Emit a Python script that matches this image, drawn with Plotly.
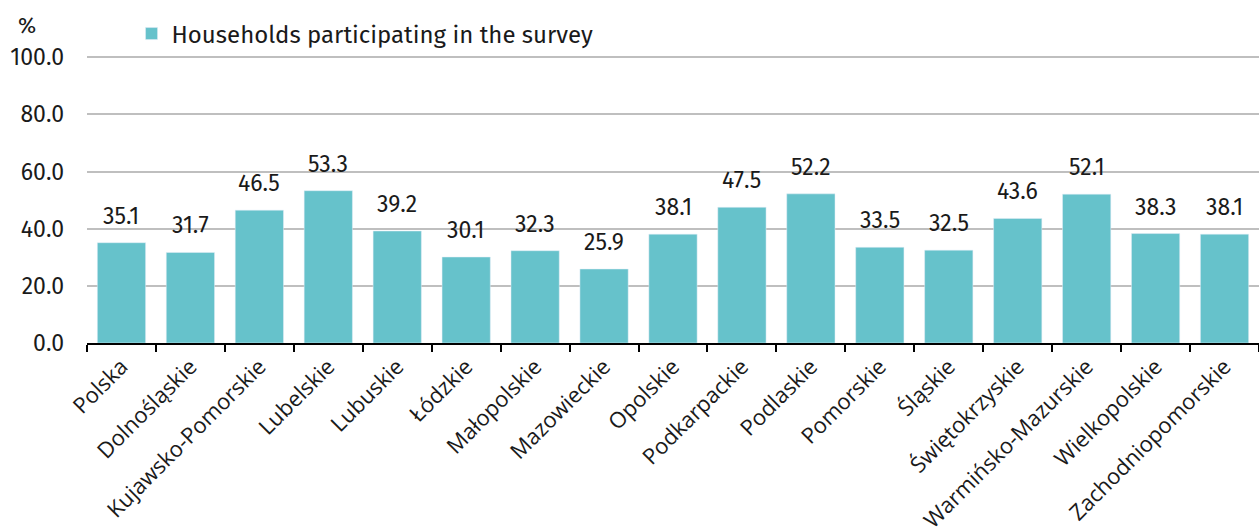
import plotly.graph_objects as go

regions = [
    "Polska", "Dolnośląskie", "Kujawsko-Pomorskie", "Lubelskie", "Lubuskie",
    "Łódzkie", "Małopolskie", "Mazowieckie", "Opolskie", "Podkarpackie",
    "Podlaskie", "Pomorskie", "Śląskie", "Świętokrzyskie",
    "Warmińsko-Mazurskie", "Wielkopolskie", "Zachodniopomorskie",
]
households = [
    35.1, 31.7, 46.5, 53.3, 39.2, 30.1, 32.3, 25.9, 38.1, 47.5,
    52.2, 33.5, 32.5, 43.6, 52.1, 38.3, 38.1,
]
y_ticks = [0, 20, 40, 60, 80, 100]

main_font = "Fira Sans, Roboto, sans-serif"
tick_font = "Open Sans, sans-serif"

fig = go.Figure()
fig.add_trace(go.Bar(
    x=regions,
    y=households,
    name="Households participating in the survey",
    marker=dict(color="#66C2CB"),
))

# value labels above the bars
annotations = []
for region, val in zip(regions, households):
    annotations.append(dict(
        x=region, y=val, xref="x", yref="y",
        text=f"{val:.1f}", showarrow=False,
        yanchor="bottom", yshift=11,
        font=dict(size=23, color="#1a1a1a", family=main_font),
    ))
annotations.append(dict(
    text="%", x=-0.051, xref="paper", y=1.104, yref="paper",
    xanchor="center", yanchor="middle", showarrow=False,
    font=dict(size=22, family=main_font),
))

fig.update_layout(
    width=1259,
    height=528,
    margin=dict(l=87, r=0, t=55, b=185, autoexpand=False),
    plot_bgcolor="white",
    paper_bgcolor="white",
    font=dict(family=main_font, size=22, color="#1a1a1a"),
    bargap=0.3,
    showlegend=True,
    legend=dict(
        orientation="h",
        x=0.038, xanchor="left",
        y=1.073, yanchor="middle",
        font=dict(size=24),
        itemwidth=30,
        bgcolor="rgba(0,0,0,0)",
    ),
    annotations=annotations,
)

fig.update_xaxes(
    tickangle=-45,
    tickson="boundaries",
    ticks="outside",
    ticklen=7,
    tickwidth=1.5,
    tickcolor="black",
    showline=True,
    linecolor="black",
    linewidth=2,
    showgrid=False,
    tickfont=dict(size=22, family=tick_font),
)
fig.update_yaxes(
    range=[0, 100.8],
    tickvals=y_ticks,
    ticktext=[f"{v:.1f}" for v in y_ticks],
    showgrid=True,
    gridcolor="#BFBFBF",
    gridwidth=1.5,
    zeroline=False,
    ticks="",
    ticklabelstandoff=22,
    tickfont=dict(size=23),
)

# drop the default page margin so the figure sits at the window corner
fig.write_html(
    "out.html",
    config={"displayModeBar": False},
    post_script="document.body.style.margin='0';",
)
